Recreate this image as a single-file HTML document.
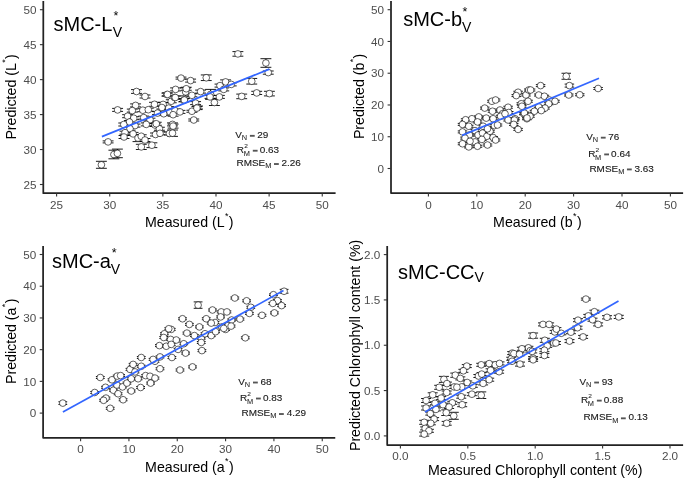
<!DOCTYPE html>
<html><head><meta charset="utf-8"><style>
html,body{margin:0;padding:0;background:#fff;}
svg{display:block;font-family:"Liberation Sans", sans-serif;}
.pts circle{fill:#fff;stroke:#000;stroke-width:0.62;}
</style></head><body>
<svg width="685" height="480" viewBox="0 0 685 480">
<defs><filter id="gs" x="0" y="0" width="685" height="480" filterUnits="userSpaceOnUse" color-interpolation-filters="sRGB"><feColorMatrix type="saturate" values="0"/></filter></defs>
<rect width="685" height="480" fill="#fff"/>
<g filter="url(#gs)">
<path d="M43.3,1.0V193.2H335.6" fill="none" stroke="#232323" stroke-width="1.75" stroke-linejoin="round" stroke-linecap="butt"/>
<line x1="39.90" y1="184.50" x2="43.3" y2="184.50" stroke="#333333" stroke-width="1.1"/>
<text x="36.40" y="188.70" text-anchor="end" font-size="11.7" fill="#4d4d4d">25</text>
<line x1="39.90" y1="149.54" x2="43.3" y2="149.54" stroke="#333333" stroke-width="1.1"/>
<text x="36.40" y="153.74" text-anchor="end" font-size="11.7" fill="#4d4d4d">30</text>
<line x1="39.90" y1="114.58" x2="43.3" y2="114.58" stroke="#333333" stroke-width="1.1"/>
<text x="36.40" y="118.78" text-anchor="end" font-size="11.7" fill="#4d4d4d">35</text>
<line x1="39.90" y1="79.62" x2="43.3" y2="79.62" stroke="#333333" stroke-width="1.1"/>
<text x="36.40" y="83.82" text-anchor="end" font-size="11.7" fill="#4d4d4d">40</text>
<line x1="39.90" y1="44.66" x2="43.3" y2="44.66" stroke="#333333" stroke-width="1.1"/>
<text x="36.40" y="48.86" text-anchor="end" font-size="11.7" fill="#4d4d4d">45</text>
<line x1="39.90" y1="9.70" x2="43.3" y2="9.70" stroke="#333333" stroke-width="1.1"/>
<text x="36.40" y="13.90" text-anchor="end" font-size="11.7" fill="#4d4d4d">50</text>
<line x1="56.60" y1="193.2" x2="56.60" y2="196.60" stroke="#333333" stroke-width="1.1"/>
<text x="56.60" y="208.60" text-anchor="middle" font-size="11.7" fill="#4d4d4d">25</text>
<line x1="109.73" y1="193.2" x2="109.73" y2="196.60" stroke="#333333" stroke-width="1.1"/>
<text x="109.73" y="208.60" text-anchor="middle" font-size="11.7" fill="#4d4d4d">30</text>
<line x1="162.86" y1="193.2" x2="162.86" y2="196.60" stroke="#333333" stroke-width="1.1"/>
<text x="162.86" y="208.60" text-anchor="middle" font-size="11.7" fill="#4d4d4d">35</text>
<line x1="215.99" y1="193.2" x2="215.99" y2="196.60" stroke="#333333" stroke-width="1.1"/>
<text x="215.99" y="208.60" text-anchor="middle" font-size="11.7" fill="#4d4d4d">40</text>
<line x1="269.12" y1="193.2" x2="269.12" y2="196.60" stroke="#333333" stroke-width="1.1"/>
<text x="269.12" y="208.60" text-anchor="middle" font-size="11.7" fill="#4d4d4d">45</text>
<line x1="322.25" y1="193.2" x2="322.25" y2="196.60" stroke="#333333" stroke-width="1.1"/>
<text x="322.25" y="208.60" text-anchor="middle" font-size="11.7" fill="#4d4d4d">50</text>
<path d="M391.0,1.0V193.1H683.1" fill="none" stroke="#232323" stroke-width="1.75" stroke-linejoin="round" stroke-linecap="butt"/>
<line x1="387.60" y1="168.50" x2="391.0" y2="168.50" stroke="#333333" stroke-width="1.1"/>
<text x="384.10" y="172.70" text-anchor="end" font-size="11.7" fill="#4d4d4d">0</text>
<line x1="387.60" y1="136.74" x2="391.0" y2="136.74" stroke="#333333" stroke-width="1.1"/>
<text x="384.10" y="140.94" text-anchor="end" font-size="11.7" fill="#4d4d4d">10</text>
<line x1="387.60" y1="104.98" x2="391.0" y2="104.98" stroke="#333333" stroke-width="1.1"/>
<text x="384.10" y="109.18" text-anchor="end" font-size="11.7" fill="#4d4d4d">20</text>
<line x1="387.60" y1="73.22" x2="391.0" y2="73.22" stroke="#333333" stroke-width="1.1"/>
<text x="384.10" y="77.42" text-anchor="end" font-size="11.7" fill="#4d4d4d">30</text>
<line x1="387.60" y1="41.46" x2="391.0" y2="41.46" stroke="#333333" stroke-width="1.1"/>
<text x="384.10" y="45.66" text-anchor="end" font-size="11.7" fill="#4d4d4d">40</text>
<line x1="387.60" y1="9.70" x2="391.0" y2="9.70" stroke="#333333" stroke-width="1.1"/>
<text x="384.10" y="13.90" text-anchor="end" font-size="11.7" fill="#4d4d4d">50</text>
<line x1="428.40" y1="193.1" x2="428.40" y2="196.50" stroke="#333333" stroke-width="1.1"/>
<text x="428.40" y="208.50" text-anchor="middle" font-size="11.7" fill="#4d4d4d">0</text>
<line x1="476.80" y1="193.1" x2="476.80" y2="196.50" stroke="#333333" stroke-width="1.1"/>
<text x="476.80" y="208.50" text-anchor="middle" font-size="11.7" fill="#4d4d4d">10</text>
<line x1="525.20" y1="193.1" x2="525.20" y2="196.50" stroke="#333333" stroke-width="1.1"/>
<text x="525.20" y="208.50" text-anchor="middle" font-size="11.7" fill="#4d4d4d">20</text>
<line x1="573.60" y1="193.1" x2="573.60" y2="196.50" stroke="#333333" stroke-width="1.1"/>
<text x="573.60" y="208.50" text-anchor="middle" font-size="11.7" fill="#4d4d4d">30</text>
<line x1="622.00" y1="193.1" x2="622.00" y2="196.50" stroke="#333333" stroke-width="1.1"/>
<text x="622.00" y="208.50" text-anchor="middle" font-size="11.7" fill="#4d4d4d">40</text>
<line x1="670.40" y1="193.1" x2="670.40" y2="196.50" stroke="#333333" stroke-width="1.1"/>
<text x="670.40" y="208.50" text-anchor="middle" font-size="11.7" fill="#4d4d4d">50</text>
<path d="M43.1,246.0V437.8H335.25" fill="none" stroke="#232323" stroke-width="1.75" stroke-linejoin="round" stroke-linecap="butt"/>
<line x1="39.70" y1="413.10" x2="43.1" y2="413.10" stroke="#333333" stroke-width="1.1"/>
<text x="36.20" y="417.30" text-anchor="end" font-size="11.7" fill="#4d4d4d">0</text>
<line x1="39.70" y1="381.38" x2="43.1" y2="381.38" stroke="#333333" stroke-width="1.1"/>
<text x="36.20" y="385.58" text-anchor="end" font-size="11.7" fill="#4d4d4d">10</text>
<line x1="39.70" y1="349.66" x2="43.1" y2="349.66" stroke="#333333" stroke-width="1.1"/>
<text x="36.20" y="353.86" text-anchor="end" font-size="11.7" fill="#4d4d4d">20</text>
<line x1="39.70" y1="317.94" x2="43.1" y2="317.94" stroke="#333333" stroke-width="1.1"/>
<text x="36.20" y="322.14" text-anchor="end" font-size="11.7" fill="#4d4d4d">30</text>
<line x1="39.70" y1="286.22" x2="43.1" y2="286.22" stroke="#333333" stroke-width="1.1"/>
<text x="36.20" y="290.42" text-anchor="end" font-size="11.7" fill="#4d4d4d">40</text>
<line x1="39.70" y1="254.50" x2="43.1" y2="254.50" stroke="#333333" stroke-width="1.1"/>
<text x="36.20" y="258.70" text-anchor="end" font-size="11.7" fill="#4d4d4d">50</text>
<line x1="80.60" y1="437.8" x2="80.60" y2="441.20" stroke="#333333" stroke-width="1.1"/>
<text x="80.60" y="453.20" text-anchor="middle" font-size="11.7" fill="#4d4d4d">0</text>
<line x1="128.93" y1="437.8" x2="128.93" y2="441.20" stroke="#333333" stroke-width="1.1"/>
<text x="128.93" y="453.20" text-anchor="middle" font-size="11.7" fill="#4d4d4d">10</text>
<line x1="177.26" y1="437.8" x2="177.26" y2="441.20" stroke="#333333" stroke-width="1.1"/>
<text x="177.26" y="453.20" text-anchor="middle" font-size="11.7" fill="#4d4d4d">20</text>
<line x1="225.59" y1="437.8" x2="225.59" y2="441.20" stroke="#333333" stroke-width="1.1"/>
<text x="225.59" y="453.20" text-anchor="middle" font-size="11.7" fill="#4d4d4d">30</text>
<line x1="273.92" y1="437.8" x2="273.92" y2="441.20" stroke="#333333" stroke-width="1.1"/>
<text x="273.92" y="453.20" text-anchor="middle" font-size="11.7" fill="#4d4d4d">40</text>
<line x1="322.25" y1="437.8" x2="322.25" y2="441.20" stroke="#333333" stroke-width="1.1"/>
<text x="322.25" y="453.20" text-anchor="middle" font-size="11.7" fill="#4d4d4d">50</text>
<path d="M387.2,246.0V445.0H683.1" fill="none" stroke="#232323" stroke-width="1.75" stroke-linejoin="round" stroke-linecap="butt"/>
<line x1="383.80" y1="435.90" x2="387.2" y2="435.90" stroke="#333333" stroke-width="1.1"/>
<text x="380.30" y="440.10" text-anchor="end" font-size="11.7" fill="#4d4d4d">0.0</text>
<line x1="383.80" y1="390.57" x2="387.2" y2="390.57" stroke="#333333" stroke-width="1.1"/>
<text x="380.30" y="394.77" text-anchor="end" font-size="11.7" fill="#4d4d4d">0.5</text>
<line x1="383.80" y1="345.25" x2="387.2" y2="345.25" stroke="#333333" stroke-width="1.1"/>
<text x="380.30" y="349.45" text-anchor="end" font-size="11.7" fill="#4d4d4d">1.0</text>
<line x1="383.80" y1="299.92" x2="387.2" y2="299.92" stroke="#333333" stroke-width="1.1"/>
<text x="380.30" y="304.12" text-anchor="end" font-size="11.7" fill="#4d4d4d">1.5</text>
<line x1="383.80" y1="254.60" x2="387.2" y2="254.60" stroke="#333333" stroke-width="1.1"/>
<text x="380.30" y="258.80" text-anchor="end" font-size="11.7" fill="#4d4d4d">2.0</text>
<line x1="400.40" y1="445.0" x2="400.40" y2="448.40" stroke="#333333" stroke-width="1.1"/>
<text x="400.40" y="460.40" text-anchor="middle" font-size="11.7" fill="#4d4d4d">0.0</text>
<line x1="467.80" y1="445.0" x2="467.80" y2="448.40" stroke="#333333" stroke-width="1.1"/>
<text x="467.80" y="460.40" text-anchor="middle" font-size="11.7" fill="#4d4d4d">0.5</text>
<line x1="535.20" y1="445.0" x2="535.20" y2="448.40" stroke="#333333" stroke-width="1.1"/>
<text x="535.20" y="460.40" text-anchor="middle" font-size="11.7" fill="#4d4d4d">1.0</text>
<line x1="602.60" y1="445.0" x2="602.60" y2="448.40" stroke="#333333" stroke-width="1.1"/>
<text x="602.60" y="460.40" text-anchor="middle" font-size="11.7" fill="#4d4d4d">1.5</text>
<line x1="670.00" y1="445.0" x2="670.00" y2="448.40" stroke="#333333" stroke-width="1.1"/>
<text x="670.00" y="460.40" text-anchor="middle" font-size="11.7" fill="#4d4d4d">2.0</text>
<g class="pts"><path d="M131.05,89.60h10.9M136.50,89.60V93.40M131.05,93.40h10.9M139.55,95.00h10.9M145.00,95.00V98.00M139.55,98.00h10.9M161.45,93.10h10.9M166.90,93.10V96.10M161.45,96.10h10.9M112.15,108.40h10.9M117.60,108.40V111.40M112.15,111.40h10.9M130.15,103.90h10.9M135.60,103.90V106.90M130.15,106.90h10.9M126.85,109.10h10.9M132.30,109.10V112.10M126.85,112.10h10.9M137.35,108.70h10.9M142.80,108.70V111.70M137.35,111.70h10.9M142.85,108.20h10.9M148.30,108.20V111.20M142.85,111.20h10.9M149.05,102.30h10.9M154.50,102.30V106.30M149.05,106.30h10.9M157.65,102.40h10.9M163.10,102.40V106.40M157.65,106.40h10.9M122.15,114.70h10.9M127.60,114.70V117.70M122.15,117.70h10.9M128.25,116.70h10.9M133.70,116.70V119.70M128.25,119.70h10.9M138.25,116.10h10.9M143.70,116.10V119.10M138.25,119.10h10.9M144.55,118.20h10.9M150.00,118.20V121.20M144.55,121.20h10.9M152.05,111.60h10.9M157.50,111.60V114.60M152.05,114.60h10.9M158.30,112.25h10.9M163.75,112.25V115.25M158.30,115.25h10.9M124.05,120.50h10.9M129.50,120.50V123.50M124.05,123.50h10.9M118.30,123.00h10.9M123.75,123.00V126.00M118.30,126.00h10.9M129.55,124.10h10.9M135.00,124.10V127.10M129.55,127.10h10.9M140.80,122.90h10.9M146.25,122.90V125.90M140.80,125.90h10.9M149.55,123.50h10.9M155.00,123.50V126.50M149.55,126.50h10.9M153.95,127.25h10.9M159.40,127.25V130.25M153.95,130.25h10.9M124.55,127.25h10.9M130.00,127.25V130.25M124.55,130.25h10.9M119.55,131.20h10.9M125.00,131.20V134.20M119.55,134.20h10.9M127.65,132.40h10.9M133.10,132.40V135.40M127.65,135.40h10.9M132.55,134.60h10.9M138.00,134.60V141.60M132.55,141.60h10.9M135.80,134.75h10.9M141.25,134.75V137.75M135.80,137.75h10.9M139.55,138.50h10.9M145.00,138.50V141.50M139.55,141.50h10.9M150.05,133.00h10.9M155.50,133.00V136.00M150.05,136.00h10.9M154.55,131.80h10.9M160.00,131.80V134.80M154.55,134.80h10.9M118.55,135.50h10.9M124.00,135.50V138.50M118.55,138.50h10.9M135.85,144.30h10.9M141.30,144.30V149.50M135.85,149.50h10.9M146.45,142.80h10.9M151.90,142.80V147.60M146.45,147.60h10.9M102.65,140.90h10.9M108.10,140.90V142.90M102.65,142.90h10.9M108.45,150.20h10.9M113.90,150.20V158.80M108.45,158.80h10.9M111.95,149.10h10.9M117.40,149.10V157.70M111.95,157.70h10.9M95.95,161.30h10.9M101.40,161.30V168.30M95.95,168.30h10.9M163.95,132.00h10.9M169.40,132.00V135.00M163.95,135.00h10.9M163.30,106.60h10.9M168.75,106.60V109.60M163.30,109.60h10.9M156.45,106.00h10.9M161.90,106.00V109.00M156.45,109.00h10.9M164.55,110.40h10.9M170.00,110.40V113.40M164.55,113.40h10.9M169.55,109.10h10.9M175.00,109.10V112.10M169.55,112.10h10.9M174.55,110.40h10.9M180.00,110.40V113.40M174.55,113.40h10.9M167.65,113.20h10.9M173.10,113.20V116.20M167.65,116.20h10.9M150.80,122.25h10.9M156.25,122.25V125.25M150.80,125.25h10.9M167.05,122.90h10.9M172.50,122.90V125.90M167.05,125.90h10.9M165.80,99.75h10.9M171.25,99.75V102.75M165.80,102.75h10.9M168.95,96.00h10.9M174.40,96.00V99.00M168.95,99.00h10.9M178.30,98.80h10.9M183.75,98.80V101.80M178.30,101.80h10.9M232.45,51.60h10.9M237.90,51.60V56.20M232.45,56.20h10.9M175.55,77.10h10.9M181.00,77.10V79.10M175.55,79.10h10.9M185.15,79.10h10.9M190.60,79.10V82.10M185.15,82.10h10.9M200.80,74.95h10.9M206.25,74.95V80.55M200.80,80.55h10.9M220.15,79.90h10.9M225.60,79.90V83.90M220.15,83.90h10.9M214.55,84.10h10.9M220.00,84.10V87.10M214.55,87.10h10.9M225.80,82.90h10.9M231.25,82.90V85.90M225.80,85.90h10.9M236.25,94.10h10.9M241.70,94.10V98.70M236.25,98.70h10.9M170.15,87.90h10.9M175.60,87.90V90.90M170.15,90.90h10.9M180.15,87.90h10.9M185.60,87.90V95.90M180.15,95.90h10.9M180.80,87.25h10.9M186.25,87.25V90.25M180.80,90.25h10.9M162.05,92.90h10.9M167.50,92.90V95.90M162.05,95.90h10.9M169.85,96.00h10.9M175.30,96.00V99.00M169.85,99.00h10.9M186.45,93.80h10.9M191.90,93.80V96.80M186.45,96.80h10.9M195.15,90.10h10.9M200.60,90.10V93.10M195.15,93.10h10.9M178.95,98.50h10.9M184.40,98.50V101.50M178.95,101.50h10.9M190.15,101.60h10.9M195.60,101.60V104.60M190.15,104.60h10.9M192.05,106.00h10.9M197.50,106.00V109.00M192.05,109.00h10.9M205.15,89.40h10.9M210.60,89.40V99.40M205.15,99.40h10.9M213.95,95.40h10.9M219.40,95.40V98.40M213.95,98.40h10.9M218.30,87.90h10.9M223.75,87.90V90.90M218.30,90.90h10.9M208.95,99.50h10.9M214.40,99.50V105.50M208.95,105.50h10.9M204.55,95.40h10.9M210.00,95.40V98.40M204.55,98.40h10.9M186.45,110.25h10.9M191.90,110.25V112.25M186.45,112.25h10.9M191.45,106.60h10.9M196.90,106.60V109.60M191.45,109.60h10.9M188.30,119.00h10.9M193.75,119.00V121.00M188.30,121.00h10.9M167.65,124.10h10.9M173.10,124.10V128.10M167.65,128.10h10.9M167.05,130.00h10.9M172.50,130.00V136.40M167.05,136.40h10.9M260.45,58.70h10.9M265.90,58.70V67.30M260.45,67.30h10.9M262.80,71.00h10.9M268.25,71.00V74.20M262.80,74.20h10.9M246.30,78.45h10.9M251.75,78.45V84.05M246.30,84.05h10.9M251.25,91.30h10.9M256.70,91.30V94.50M251.25,94.50h10.9M263.95,91.30h10.9M269.40,91.30V95.90M263.95,95.90h10.9" fill="none" stroke="#000" stroke-width="0.9"/>
<circle cx="136.50" cy="91.50" r="3.35"/>
<circle cx="145.00" cy="96.50" r="3.35"/>
<circle cx="166.90" cy="94.60" r="3.35"/>
<circle cx="117.60" cy="109.90" r="3.35"/>
<circle cx="135.60" cy="105.40" r="3.35"/>
<circle cx="132.30" cy="110.60" r="3.35"/>
<circle cx="142.80" cy="110.20" r="3.35"/>
<circle cx="148.30" cy="109.70" r="3.35"/>
<circle cx="154.50" cy="104.30" r="3.35"/>
<circle cx="163.10" cy="104.40" r="3.35"/>
<circle cx="127.60" cy="116.20" r="3.35"/>
<circle cx="133.70" cy="118.20" r="3.35"/>
<circle cx="143.70" cy="117.60" r="3.35"/>
<circle cx="150.00" cy="119.70" r="3.35"/>
<circle cx="157.50" cy="113.10" r="3.35"/>
<circle cx="163.75" cy="113.75" r="3.35"/>
<circle cx="129.50" cy="122.00" r="3.35"/>
<circle cx="123.75" cy="124.50" r="3.35"/>
<circle cx="135.00" cy="125.60" r="3.35"/>
<circle cx="146.25" cy="124.40" r="3.35"/>
<circle cx="155.00" cy="125.00" r="3.35"/>
<circle cx="159.40" cy="128.75" r="3.35"/>
<circle cx="130.00" cy="128.75" r="3.35"/>
<circle cx="125.00" cy="132.70" r="3.35"/>
<circle cx="133.10" cy="133.90" r="3.35"/>
<circle cx="138.00" cy="138.10" r="3.35"/>
<circle cx="141.25" cy="136.25" r="3.35"/>
<circle cx="145.00" cy="140.00" r="3.35"/>
<circle cx="155.50" cy="134.50" r="3.35"/>
<circle cx="160.00" cy="133.30" r="3.35"/>
<circle cx="124.00" cy="137.00" r="3.35"/>
<circle cx="141.30" cy="146.90" r="3.35"/>
<circle cx="151.90" cy="145.20" r="3.35"/>
<circle cx="108.10" cy="141.90" r="3.35"/>
<circle cx="113.90" cy="154.50" r="3.35"/>
<circle cx="117.40" cy="153.40" r="3.35"/>
<circle cx="101.40" cy="164.80" r="3.35"/>
<circle cx="169.40" cy="133.50" r="3.35"/>
<circle cx="168.75" cy="108.10" r="3.35"/>
<circle cx="161.90" cy="107.50" r="3.35"/>
<circle cx="170.00" cy="111.90" r="3.35"/>
<circle cx="175.00" cy="110.60" r="3.35"/>
<circle cx="180.00" cy="111.90" r="3.35"/>
<circle cx="173.10" cy="114.70" r="3.35"/>
<circle cx="156.25" cy="123.75" r="3.35"/>
<circle cx="172.50" cy="124.40" r="3.35"/>
<circle cx="171.25" cy="101.25" r="3.35"/>
<circle cx="174.40" cy="97.50" r="3.35"/>
<circle cx="183.75" cy="100.30" r="3.35"/>
<circle cx="237.90" cy="53.90" r="3.35"/>
<circle cx="181.00" cy="78.10" r="3.35"/>
<circle cx="190.60" cy="80.60" r="3.35"/>
<circle cx="206.25" cy="77.75" r="3.35"/>
<circle cx="225.60" cy="81.90" r="3.35"/>
<circle cx="220.00" cy="85.60" r="3.35"/>
<circle cx="231.25" cy="84.40" r="3.35"/>
<circle cx="241.70" cy="96.40" r="3.35"/>
<circle cx="175.60" cy="89.40" r="3.35"/>
<circle cx="185.60" cy="91.90" r="3.35"/>
<circle cx="186.25" cy="88.75" r="3.35"/>
<circle cx="167.50" cy="94.40" r="3.35"/>
<circle cx="175.30" cy="97.50" r="3.35"/>
<circle cx="191.90" cy="95.30" r="3.35"/>
<circle cx="200.60" cy="91.60" r="3.35"/>
<circle cx="184.40" cy="100.00" r="3.35"/>
<circle cx="195.60" cy="103.10" r="3.35"/>
<circle cx="197.50" cy="107.50" r="3.35"/>
<circle cx="210.60" cy="94.40" r="3.35"/>
<circle cx="219.40" cy="96.90" r="3.35"/>
<circle cx="223.75" cy="89.40" r="3.35"/>
<circle cx="214.40" cy="102.50" r="3.35"/>
<circle cx="210.00" cy="96.90" r="3.35"/>
<circle cx="191.90" cy="111.25" r="3.35"/>
<circle cx="196.90" cy="108.10" r="3.35"/>
<circle cx="193.75" cy="120.00" r="3.35"/>
<circle cx="173.10" cy="126.10" r="3.35"/>
<circle cx="172.50" cy="133.20" r="3.35"/>
<circle cx="265.90" cy="63.00" r="3.35"/>
<circle cx="268.25" cy="72.60" r="3.35"/>
<circle cx="251.75" cy="81.25" r="3.35"/>
<circle cx="256.70" cy="92.90" r="3.35"/>
<circle cx="269.40" cy="93.60" r="3.35"/></g>
<g class="pts"><path d="M513.35,91.25h9.5M518.10,91.25V93.25M513.35,93.25h9.5M511.50,94.60h9.5M516.25,94.60V96.60M511.50,96.60h9.5M521.25,94.00h9.5M526.00,94.00V96.00M521.25,96.00h9.5M524.00,89.00h9.5M528.75,89.00V91.00M524.00,91.00h9.5M487.15,100.25h9.5M491.90,100.25V102.25M487.15,102.25h9.5M490.85,99.00h9.5M495.60,99.00V101.00M490.85,101.00h9.5M480.00,107.10h9.5M484.75,107.10V109.10M480.00,109.10h9.5M487.75,110.25h9.5M492.50,110.25V112.25M487.75,112.25h9.5M495.25,109.00h9.5M500.00,109.00V111.00M495.25,111.00h9.5M503.35,106.25h9.5M508.10,106.25V108.25M503.35,108.25h9.5M504.00,111.50h9.5M508.75,111.50V113.50M504.00,113.50h9.5M497.75,112.75h9.5M502.50,112.75V114.75M497.75,114.75h9.5M516.50,102.75h9.5M521.25,102.75V104.75M516.50,104.75h9.5M517.15,105.25h9.5M521.90,105.25V107.25M517.15,107.25h9.5M519.00,112.75h9.5M523.75,112.75V114.75M519.00,114.75h9.5M523.35,100.25h9.5M528.10,100.25V102.25M523.35,102.25h9.5M474.00,115.90h9.5M478.75,115.90V117.90M474.00,117.90h9.5M467.15,117.75h9.5M471.90,117.75V119.75M467.15,119.75h9.5M481.50,117.10h9.5M486.25,117.10V119.10M481.50,119.10h9.5M488.35,117.75h9.5M493.10,117.75V119.75M488.35,119.75h9.5M460.85,118.75h9.5M465.60,118.75V120.75M460.85,120.75h9.5M510.25,117.75h9.5M515.00,117.75V119.75M510.25,119.75h9.5M457.75,123.40h9.5M462.50,123.40V125.40M457.75,125.40h9.5M464.00,125.25h9.5M468.75,125.25V127.25M464.00,127.25h9.5M472.75,120.90h9.5M477.50,120.90V122.90M472.75,122.90h9.5M495.85,115.25h9.5M500.60,115.25V117.25M495.85,117.25h9.5M500.25,112.75h9.5M505.00,112.75V114.75M500.25,114.75h9.5M503.35,119.00h9.5M508.10,119.00V121.00M503.35,121.00h9.5M509.65,119.00h9.5M514.40,119.00V121.00M509.65,121.00h9.5M509.00,123.40h9.5M513.75,123.40V125.40M509.00,125.40h9.5M513.35,128.40h9.5M518.10,128.40V130.40M513.35,130.40h9.5M519.65,112.10h9.5M524.40,112.10V114.10M519.65,114.10h9.5M522.15,117.75h9.5M526.90,117.75V119.75M522.15,119.75h9.5M457.75,130.90h9.5M462.50,130.90V132.90M457.75,132.90h9.5M464.65,134.00h9.5M469.40,134.00V136.00M464.65,136.00h9.5M470.25,129.60h9.5M475.00,129.60V131.60M470.25,131.60h9.5M473.35,134.00h9.5M478.10,134.00V136.00M473.35,136.00h9.5M477.75,132.10h9.5M482.50,132.10V134.10M477.75,134.10h9.5M482.15,135.25h9.5M486.90,135.25V137.25M482.15,137.25h9.5M485.25,130.25h9.5M490.00,130.25V132.25M485.25,132.25h9.5M488.35,136.50h9.5M493.10,136.50V138.50M488.35,138.50h9.5M489.65,124.60h9.5M494.40,124.60V126.60M489.65,126.60h9.5M492.75,124.00h9.5M497.50,124.00V126.00M492.75,126.00h9.5M460.25,137.10h9.5M465.00,137.10V139.10M460.25,139.10h9.5M457.75,142.75h9.5M462.50,142.75V144.75M457.75,144.75h9.5M464.00,145.90h9.5M468.75,145.90V147.90M464.00,147.90h9.5M470.25,140.90h9.5M475.00,140.90V142.90M470.25,142.90h9.5M472.75,145.25h9.5M477.50,145.25V147.25M472.75,147.25h9.5M477.15,138.40h9.5M481.90,138.40V140.40M477.15,140.40h9.5M482.75,144.00h9.5M487.50,144.00V146.00M482.75,146.00h9.5M490.85,139.00h9.5M495.60,139.00V141.00M490.85,141.00h9.5M465.25,140.25h9.5M470.00,140.25V142.25M465.25,142.25h9.5M478.35,125.25h9.5M483.10,125.25V127.25M478.35,127.25h9.5M482.75,127.75h9.5M487.50,127.75V129.75M482.75,129.75h9.5M561.50,73.25h9.5M566.25,73.25V79.25M561.50,79.25h9.5M535.85,84.60h9.5M540.60,84.60V86.60M535.85,86.60h9.5M564.65,84.10h9.5M569.40,84.10V87.10M564.65,87.10h9.5M564.00,94.00h9.5M568.75,94.00V96.00M564.00,96.00h9.5M575.00,93.75h9.5M579.75,93.75V95.75M575.00,95.75h9.5M593.35,87.50h9.5M598.10,87.50V89.50M593.35,89.50h9.5M525.85,89.00h9.5M530.60,89.00V91.00M525.85,91.00h9.5M534.00,94.00h9.5M538.75,94.00V96.00M534.00,96.00h9.5M539.65,95.25h9.5M544.40,95.25V97.25M539.65,97.25h9.5M544.65,99.00h9.5M549.40,99.00V101.00M544.65,101.00h9.5M550.25,100.25h9.5M555.00,100.25V102.25M550.25,102.25h9.5M544.00,102.75h9.5M548.75,102.75V104.75M544.00,104.75h9.5M540.25,107.10h9.5M545.00,107.10V109.10M540.25,109.10h9.5M534.00,105.90h9.5M538.75,105.90V107.90M534.00,107.90h9.5M536.50,109.60h9.5M541.25,109.60V111.60M536.50,111.60h9.5M529.65,110.25h9.5M534.40,110.25V112.25M529.65,112.25h9.5M525.25,115.25h9.5M530.00,115.25V117.25M525.25,117.25h9.5M522.25,117.00h9.5M527.00,117.00V119.00M522.25,119.00h9.5" fill="none" stroke="#000" stroke-width="0.9"/>
<circle cx="518.10" cy="92.25" r="3.35"/>
<circle cx="516.25" cy="95.60" r="3.35"/>
<circle cx="526.00" cy="95.00" r="3.35"/>
<circle cx="528.75" cy="90.00" r="3.35"/>
<circle cx="491.90" cy="101.25" r="3.35"/>
<circle cx="495.60" cy="100.00" r="3.35"/>
<circle cx="484.75" cy="108.10" r="3.35"/>
<circle cx="492.50" cy="111.25" r="3.35"/>
<circle cx="500.00" cy="110.00" r="3.35"/>
<circle cx="508.10" cy="107.25" r="3.35"/>
<circle cx="508.75" cy="112.50" r="3.35"/>
<circle cx="502.50" cy="113.75" r="3.35"/>
<circle cx="521.25" cy="103.75" r="3.35"/>
<circle cx="521.90" cy="106.25" r="3.35"/>
<circle cx="523.75" cy="113.75" r="3.35"/>
<circle cx="528.10" cy="101.25" r="3.35"/>
<circle cx="478.75" cy="116.90" r="3.35"/>
<circle cx="471.90" cy="118.75" r="3.35"/>
<circle cx="486.25" cy="118.10" r="3.35"/>
<circle cx="493.10" cy="118.75" r="3.35"/>
<circle cx="465.60" cy="119.75" r="3.35"/>
<circle cx="515.00" cy="118.75" r="3.35"/>
<circle cx="462.50" cy="124.40" r="3.35"/>
<circle cx="468.75" cy="126.25" r="3.35"/>
<circle cx="477.50" cy="121.90" r="3.35"/>
<circle cx="500.60" cy="116.25" r="3.35"/>
<circle cx="505.00" cy="113.75" r="3.35"/>
<circle cx="508.10" cy="120.00" r="3.35"/>
<circle cx="514.40" cy="120.00" r="3.35"/>
<circle cx="513.75" cy="124.40" r="3.35"/>
<circle cx="518.10" cy="129.40" r="3.35"/>
<circle cx="524.40" cy="113.10" r="3.35"/>
<circle cx="526.90" cy="118.75" r="3.35"/>
<circle cx="462.50" cy="131.90" r="3.35"/>
<circle cx="469.40" cy="135.00" r="3.35"/>
<circle cx="475.00" cy="130.60" r="3.35"/>
<circle cx="478.10" cy="135.00" r="3.35"/>
<circle cx="482.50" cy="133.10" r="3.35"/>
<circle cx="486.90" cy="136.25" r="3.35"/>
<circle cx="490.00" cy="131.25" r="3.35"/>
<circle cx="493.10" cy="137.50" r="3.35"/>
<circle cx="494.40" cy="125.60" r="3.35"/>
<circle cx="497.50" cy="125.00" r="3.35"/>
<circle cx="465.00" cy="138.10" r="3.35"/>
<circle cx="462.50" cy="143.75" r="3.35"/>
<circle cx="468.75" cy="146.90" r="3.35"/>
<circle cx="475.00" cy="141.90" r="3.35"/>
<circle cx="477.50" cy="146.25" r="3.35"/>
<circle cx="481.90" cy="139.40" r="3.35"/>
<circle cx="487.50" cy="145.00" r="3.35"/>
<circle cx="495.60" cy="140.00" r="3.35"/>
<circle cx="470.00" cy="141.25" r="3.35"/>
<circle cx="483.10" cy="126.25" r="3.35"/>
<circle cx="487.50" cy="128.75" r="3.35"/>
<circle cx="566.25" cy="76.25" r="3.35"/>
<circle cx="540.60" cy="85.60" r="3.35"/>
<circle cx="569.40" cy="85.60" r="3.35"/>
<circle cx="568.75" cy="95.00" r="3.35"/>
<circle cx="579.75" cy="94.75" r="3.35"/>
<circle cx="598.10" cy="88.50" r="3.35"/>
<circle cx="530.60" cy="90.00" r="3.35"/>
<circle cx="538.75" cy="95.00" r="3.35"/>
<circle cx="544.40" cy="96.25" r="3.35"/>
<circle cx="549.40" cy="100.00" r="3.35"/>
<circle cx="555.00" cy="101.25" r="3.35"/>
<circle cx="548.75" cy="103.75" r="3.35"/>
<circle cx="545.00" cy="108.10" r="3.35"/>
<circle cx="538.75" cy="106.90" r="3.35"/>
<circle cx="541.25" cy="110.60" r="3.35"/>
<circle cx="534.40" cy="111.25" r="3.35"/>
<circle cx="530.00" cy="116.25" r="3.35"/>
<circle cx="527.00" cy="118.00" r="3.35"/></g>
<g class="pts"><path d="M58.40,401.75h8.8M62.80,401.75V404.45M58.40,404.45h8.8M95.90,376.50h8.8M100.30,376.50V378.50M95.90,378.50h8.8M90.30,391.50h8.8M94.70,391.50V393.50M90.30,393.50h8.8M101.10,386.30h8.8M105.50,386.30V388.30M101.10,388.30h8.8M107.60,378.80h8.8M112.00,378.80V380.80M107.60,380.80h8.8M112.80,375.10h8.8M117.20,375.10V377.10M112.80,377.10h8.8M109.00,389.20h8.8M113.40,389.20V391.20M109.00,391.20h8.8M101.60,397.10h8.8M106.00,397.10V399.10M101.60,399.10h8.8M99.20,399.30h8.8M103.60,399.30V401.30M99.20,401.30h8.8M105.80,407.30h8.8M110.20,407.30V409.30M105.80,409.30h8.8M113.70,392.75h8.8M118.10,392.75V394.75M113.70,394.75h8.8M116.20,374.60h8.8M120.60,374.60V376.60M116.20,376.60h8.8M112.50,384.00h8.8M116.90,384.00V386.00M112.50,386.00h8.8M118.10,385.90h8.8M122.50,385.90V387.90M118.10,387.90h8.8M118.70,398.75h8.8M123.10,398.75V400.75M118.70,400.75h8.8M122.50,382.10h8.8M126.90,382.10V384.10M122.50,384.10h8.8M126.85,377.75h8.8M131.25,377.75V379.75M126.85,379.75h8.8M126.85,390.00h8.8M131.25,390.00V392.00M126.85,392.00h8.8M133.70,377.75h8.8M138.10,377.75V379.75M133.70,379.75h8.8M136.20,386.50h8.8M140.60,386.50V388.50M136.20,388.50h8.8M125.60,368.40h8.8M130.00,368.40V370.40M125.60,370.40h8.8M128.70,363.40h8.8M133.10,363.40V365.40M128.70,365.40h8.8M136.85,365.25h8.8M141.25,365.25V367.25M136.85,367.25h8.8M130.60,370.90h8.8M135.00,370.90V372.90M130.60,372.90h8.8M141.20,374.60h8.8M145.60,374.60V376.60M141.20,376.60h8.8M145.60,375.25h8.8M150.00,375.25V377.25M145.60,377.25h8.8M150.60,377.10h8.8M155.00,377.10V379.10M150.60,379.10h8.8M146.20,382.10h8.8M150.60,382.10V384.10M146.20,384.10h8.8M155.60,367.75h8.8M160.00,367.75V369.75M155.60,369.75h8.8M150.60,360.25h8.8M155.00,360.25V362.25M150.60,362.25h8.8M193.70,301.90h8.8M198.10,301.90V308.30M193.70,308.30h8.8M208.10,309.00h8.8M212.50,309.00V311.00M208.10,311.00h8.8M216.85,310.90h8.8M221.25,310.90V312.90M216.85,312.90h8.8M222.50,310.90h8.8M226.90,310.90V312.90M222.50,312.90h8.8M216.20,315.90h8.8M220.60,315.90V317.90M216.20,317.90h8.8M201.85,317.75h8.8M206.25,317.75V319.75M201.85,319.75h8.8M210.60,321.50h8.8M215.00,321.50V323.50M210.60,323.50h8.8M206.85,322.10h8.8M211.25,322.10V324.10M206.85,324.10h8.8M178.10,317.75h8.8M182.50,317.75V319.75M178.10,319.75h8.8M185.00,323.40h8.8M189.40,323.40V325.40M185.00,325.40h8.8M195.00,325.90h8.8M199.40,325.90V327.90M195.00,327.90h8.8M217.50,325.90h8.8M221.90,325.90V327.90M217.50,327.90h8.8M221.20,328.40h8.8M225.60,328.40V330.40M221.20,330.40h8.8M223.70,324.60h8.8M228.10,324.60V326.60M223.70,326.60h8.8M166.85,328.40h8.8M171.25,328.40V330.40M166.85,330.40h8.8M160.00,332.75h8.8M164.40,332.75V334.75M160.00,334.75h8.8M159.35,336.50h8.8M163.75,336.50V338.50M159.35,338.50h8.8M182.50,332.10h8.8M186.90,332.10V334.10M182.50,334.10h8.8M190.00,334.60h8.8M194.40,334.60V336.60M190.00,336.60h8.8M196.85,337.10h8.8M201.25,337.10V339.10M196.85,339.10h8.8M200.60,332.75h8.8M205.00,332.75V334.75M200.60,334.75h8.8M206.85,334.60h8.8M211.25,334.60V336.60M206.85,336.60h8.8M166.20,338.40h8.8M170.60,338.40V340.40M166.20,340.40h8.8M171.85,339.00h8.8M176.25,339.00V341.00M171.85,341.00h8.8M179.35,342.75h8.8M183.75,342.75V344.75M179.35,344.75h8.8M196.85,341.50h8.8M201.25,341.50V343.50M196.85,343.50h8.8M155.00,344.60h8.8M159.40,344.60V346.60M155.00,346.60h8.8M161.85,345.25h8.8M166.25,345.25V347.25M161.85,347.25h8.8M166.85,343.40h8.8M171.25,343.40V345.40M166.85,345.40h8.8M173.70,348.40h8.8M178.10,348.40V350.40M173.70,350.40h8.8M181.20,352.10h8.8M185.60,352.10V354.10M181.20,354.10h8.8M197.50,349.60h8.8M201.90,349.60V351.60M197.50,351.60h8.8M155.60,355.90h8.8M160.00,355.90V357.90M155.60,357.90h8.8M167.50,356.50h8.8M171.90,356.50V358.50M167.50,358.50h8.8M148.70,358.40h8.8M153.10,358.40V360.40M148.70,360.40h8.8M230.40,297.00h8.8M234.80,297.00V299.00M230.40,299.00h8.8M242.20,299.80h8.8M246.60,299.80V301.80M242.20,301.80h8.8M246.40,306.30h8.8M250.80,306.30V308.30M246.40,308.30h8.8M245.00,312.40h8.8M249.40,312.40V314.40M245.00,314.40h8.8M257.60,314.30h8.8M262.00,314.30V316.30M257.60,316.30h8.8M235.60,318.10h8.8M240.00,318.10V320.10M235.60,320.10h8.8M227.20,319.00h8.8M231.60,319.00V321.00M227.20,321.00h8.8M226.70,325.10h8.8M231.10,325.10V327.10M226.70,327.10h8.8M211.20,330.70h8.8M215.60,330.70V332.70M211.20,332.70h8.8M279.70,289.35h8.8M284.10,289.35V293.15M279.70,293.15h8.8M269.00,293.90h8.8M273.40,293.90V295.50M269.00,295.50h8.8M273.10,299.60h8.8M277.50,299.60V301.60M273.10,301.60h8.8M268.40,302.40h8.8M272.80,302.40V304.40M268.40,304.40h8.8M277.20,304.60h8.8M281.60,304.60V306.60M277.20,306.60h8.8M270.00,311.90h8.8M274.40,311.90V313.90M270.00,313.90h8.8M164.35,327.75h8.8M168.75,327.75V329.75M164.35,329.75h8.8M136.85,356.50h8.8M141.25,356.50V358.50M136.85,358.50h8.8M175.60,369.00h8.8M180.00,369.00V371.00M175.60,371.00h8.8M188.10,365.90h8.8M192.50,365.90V367.90M188.10,367.90h8.8M240.90,336.80h8.8M245.30,336.80V338.80M240.90,338.80h8.8M219.35,327.40h8.8M223.75,327.40V329.40M219.35,329.40h8.8" fill="none" stroke="#000" stroke-width="0.9"/>
<circle cx="62.80" cy="403.10" r="3.35"/>
<circle cx="100.30" cy="377.50" r="3.35"/>
<circle cx="94.70" cy="392.50" r="3.35"/>
<circle cx="105.50" cy="387.30" r="3.35"/>
<circle cx="112.00" cy="379.80" r="3.35"/>
<circle cx="117.20" cy="376.10" r="3.35"/>
<circle cx="113.40" cy="390.20" r="3.35"/>
<circle cx="106.00" cy="398.10" r="3.35"/>
<circle cx="103.60" cy="400.30" r="3.35"/>
<circle cx="110.20" cy="408.30" r="3.35"/>
<circle cx="118.10" cy="393.75" r="3.35"/>
<circle cx="120.60" cy="375.60" r="3.35"/>
<circle cx="116.90" cy="385.00" r="3.35"/>
<circle cx="122.50" cy="386.90" r="3.35"/>
<circle cx="123.10" cy="399.75" r="3.35"/>
<circle cx="126.90" cy="383.10" r="3.35"/>
<circle cx="131.25" cy="378.75" r="3.35"/>
<circle cx="131.25" cy="391.00" r="3.35"/>
<circle cx="138.10" cy="378.75" r="3.35"/>
<circle cx="140.60" cy="387.50" r="3.35"/>
<circle cx="130.00" cy="369.40" r="3.35"/>
<circle cx="133.10" cy="364.40" r="3.35"/>
<circle cx="141.25" cy="366.25" r="3.35"/>
<circle cx="135.00" cy="371.90" r="3.35"/>
<circle cx="145.60" cy="375.60" r="3.35"/>
<circle cx="150.00" cy="376.25" r="3.35"/>
<circle cx="155.00" cy="378.10" r="3.35"/>
<circle cx="150.60" cy="383.10" r="3.35"/>
<circle cx="160.00" cy="368.75" r="3.35"/>
<circle cx="155.00" cy="361.25" r="3.35"/>
<circle cx="198.10" cy="305.10" r="3.35"/>
<circle cx="212.50" cy="310.00" r="3.35"/>
<circle cx="221.25" cy="311.90" r="3.35"/>
<circle cx="226.90" cy="311.90" r="3.35"/>
<circle cx="220.60" cy="316.90" r="3.35"/>
<circle cx="206.25" cy="318.75" r="3.35"/>
<circle cx="215.00" cy="322.50" r="3.35"/>
<circle cx="211.25" cy="323.10" r="3.35"/>
<circle cx="182.50" cy="318.75" r="3.35"/>
<circle cx="189.40" cy="324.40" r="3.35"/>
<circle cx="199.40" cy="326.90" r="3.35"/>
<circle cx="221.90" cy="326.90" r="3.35"/>
<circle cx="225.60" cy="329.40" r="3.35"/>
<circle cx="228.10" cy="325.60" r="3.35"/>
<circle cx="171.25" cy="329.40" r="3.35"/>
<circle cx="164.40" cy="333.75" r="3.35"/>
<circle cx="163.75" cy="337.50" r="3.35"/>
<circle cx="186.90" cy="333.10" r="3.35"/>
<circle cx="194.40" cy="335.60" r="3.35"/>
<circle cx="201.25" cy="338.10" r="3.35"/>
<circle cx="205.00" cy="333.75" r="3.35"/>
<circle cx="211.25" cy="335.60" r="3.35"/>
<circle cx="170.60" cy="339.40" r="3.35"/>
<circle cx="176.25" cy="340.00" r="3.35"/>
<circle cx="183.75" cy="343.75" r="3.35"/>
<circle cx="201.25" cy="342.50" r="3.35"/>
<circle cx="159.40" cy="345.60" r="3.35"/>
<circle cx="166.25" cy="346.25" r="3.35"/>
<circle cx="171.25" cy="344.40" r="3.35"/>
<circle cx="178.10" cy="349.40" r="3.35"/>
<circle cx="185.60" cy="353.10" r="3.35"/>
<circle cx="201.90" cy="350.60" r="3.35"/>
<circle cx="160.00" cy="356.90" r="3.35"/>
<circle cx="171.90" cy="357.50" r="3.35"/>
<circle cx="153.10" cy="359.40" r="3.35"/>
<circle cx="234.80" cy="298.00" r="3.35"/>
<circle cx="246.60" cy="300.80" r="3.35"/>
<circle cx="250.80" cy="307.30" r="3.35"/>
<circle cx="249.40" cy="313.40" r="3.35"/>
<circle cx="262.00" cy="315.30" r="3.35"/>
<circle cx="240.00" cy="319.10" r="3.35"/>
<circle cx="231.60" cy="320.00" r="3.35"/>
<circle cx="231.10" cy="326.10" r="3.35"/>
<circle cx="215.60" cy="331.70" r="3.35"/>
<circle cx="284.10" cy="291.25" r="3.35"/>
<circle cx="273.40" cy="294.70" r="3.35"/>
<circle cx="277.50" cy="300.60" r="3.35"/>
<circle cx="272.80" cy="303.40" r="3.35"/>
<circle cx="281.60" cy="305.60" r="3.35"/>
<circle cx="274.40" cy="312.90" r="3.35"/>
<circle cx="168.75" cy="328.75" r="3.35"/>
<circle cx="141.25" cy="357.50" r="3.35"/>
<circle cx="180.00" cy="370.00" r="3.35"/>
<circle cx="192.50" cy="366.90" r="3.35"/>
<circle cx="245.30" cy="337.80" r="3.35"/>
<circle cx="223.75" cy="328.40" r="3.35"/></g>
<g class="pts"><path d="M438.90,376.40h10.0M443.90,376.40V382.40M438.90,382.40h10.0M450.30,373.10h10.0M455.30,373.10V377.30M450.30,377.30h10.0M441.90,382.10h10.0M446.90,382.10V385.10M441.90,385.10h10.0M455.30,376.90h10.0M460.30,376.90V379.90M455.30,379.90h10.0M449.20,385.40h10.0M454.20,385.40V388.40M449.20,388.40h10.0M434.20,385.30h10.0M439.20,385.30V389.30M434.20,389.30h10.0M456.70,385.40h10.0M461.70,385.40V388.40M456.70,388.40h10.0M441.70,391.00h10.0M446.70,391.00V394.00M441.70,394.00h10.0M427.70,392.80h10.0M432.70,392.80V396.80M427.70,396.80h10.0M436.10,396.60h10.0M441.10,396.60V399.60M436.10,399.60h10.0M421.10,398.50h10.0M426.10,398.50V402.50M421.10,402.50h10.0M430.00,401.80h10.0M435.00,401.80V404.80M430.00,404.80h10.0M438.00,403.20h10.0M443.00,403.20V406.20M438.00,406.20h10.0M456.25,395.20h10.0M461.25,395.20V398.20M456.25,398.20h10.0M447.30,401.30h10.0M452.30,401.30V404.30M447.30,404.30h10.0M444.10,405.50h10.0M449.10,405.50V408.50M444.10,408.50h10.0M457.20,402.70h10.0M462.20,402.70V406.70M457.20,406.70h10.0M421.10,406.00h10.0M426.10,406.00V410.00M421.10,410.00h10.0M430.90,407.90h10.0M435.90,407.90V410.90M430.90,410.90h10.0M425.30,412.10h10.0M430.30,412.10V415.10M425.30,415.10h10.0M441.25,409.90h10.0M446.25,409.90V415.50M441.25,415.50h10.0M448.75,412.30h10.0M453.75,412.30V419.30M448.75,419.30h10.0M429.10,417.60h10.0M434.10,417.60V420.60M429.10,420.60h10.0M441.70,421.40h10.0M446.70,421.40V425.20M441.70,425.20h10.0M419.20,420.30h10.0M424.20,420.30V424.30M419.20,424.30h10.0M425.80,421.80h10.0M430.80,421.80V424.80M425.80,424.80h10.0M420.20,426.90h10.0M425.20,426.90V429.90M420.20,429.90h10.0M423.90,429.30h10.0M428.90,429.30V432.30M423.90,432.30h10.0M419.20,432.10h10.0M424.20,432.10V436.10M419.20,436.10h10.0M461.80,364.60h10.0M466.80,364.60V367.60M461.80,367.60h10.0M476.25,363.30h10.0M481.25,363.30V366.30M476.25,366.30h10.0M484.20,362.10h10.0M489.20,362.10V365.10M484.20,365.10h10.0M490.30,363.30h10.0M495.30,363.30V366.30M490.30,366.30h10.0M494.50,361.90h10.0M499.50,361.90V364.90M494.50,364.90h10.0M507.20,351.60h10.0M512.20,351.60V354.60M507.20,354.60h10.0M506.25,357.25h10.0M511.25,357.25V360.25M506.25,360.25h10.0M458.40,369.30h10.0M463.40,369.30V372.30M458.40,372.30h10.0M485.60,368.80h10.0M490.60,368.80V371.80M485.60,371.80h10.0M494.10,370.20h10.0M499.10,370.20V373.20M494.10,373.20h10.0M473.40,374.50h10.0M478.40,374.50V377.50M473.40,377.50h10.0M476.70,372.60h10.0M481.70,372.60V375.60M476.70,375.60h10.0M484.20,378.20h10.0M489.20,378.20V381.20M484.20,381.20h10.0M478.10,381.90h10.0M483.10,381.90V384.90M478.10,384.90h10.0M462.20,381.00h10.0M467.20,381.00V384.00M462.20,384.00h10.0M467.80,384.30h10.0M472.80,384.30V387.30M467.80,387.30h10.0M466.90,392.70h10.0M471.90,392.70V395.70M466.90,395.70h10.0M476.25,391.90h10.0M481.25,391.90V398.50M476.25,398.50h10.0M451.90,385.70h10.0M456.90,385.70V388.70M451.90,388.70h10.0M538.00,322.90h10.0M543.00,322.90V325.90M538.00,325.90h10.0M544.10,322.90h10.0M549.10,322.90V325.90M544.10,325.90h10.0M549.70,330.40h10.0M554.70,330.40V333.40M549.70,333.40h10.0M556.25,331.80h10.0M561.25,331.80V334.80M556.25,334.80h10.0M528.10,333.00h10.0M533.10,333.00V338.20M528.10,338.20h10.0M539.80,338.30h10.0M544.80,338.30V342.30M539.80,342.30h10.0M548.75,341.60h10.0M553.75,341.60V344.60M548.75,344.60h10.0M542.20,344.40h10.0M547.20,344.40V347.40M542.20,347.40h10.0M539.40,348.70h10.0M544.40,348.70V351.70M539.40,351.70h10.0M539.40,353.60h10.0M544.40,353.60V357.40M539.40,357.40h10.0M523.40,346.30h10.0M528.40,346.30V349.30M523.40,349.30h10.0M525.30,349.10h10.0M530.30,349.10V352.10M525.30,352.10h10.0M516.90,347.25h10.0M521.90,347.25V350.25M516.90,350.25h10.0M508.90,352.10h10.0M513.90,352.10V355.10M508.90,355.10h10.0M514.50,352.80h10.0M519.50,352.80V355.80M514.50,355.80h10.0M528.10,356.60h10.0M533.10,356.60V359.60M528.10,359.60h10.0M507.00,359.75h10.0M512.00,359.75V362.75M507.00,362.75h10.0M515.00,362.10h10.0M520.00,362.10V366.10M515.00,366.10h10.0M528.10,358.30h10.0M533.10,358.30V361.30M528.10,361.30h10.0M527.20,349.90h10.0M532.20,349.90V352.90M527.20,352.90h10.0M580.90,298.10h10.0M585.90,298.10V300.10M580.90,300.10h10.0M589.40,310.20h10.0M594.40,310.20V313.20M589.40,313.20h10.0M583.30,314.40h10.0M588.30,314.40V317.40M583.30,317.40h10.0M587.50,318.20h10.0M592.50,318.20V321.20M587.50,321.20h10.0M593.10,322.90h10.0M598.10,322.90V325.90M593.10,325.90h10.0M573.00,318.70h10.0M578.00,318.70V321.70M573.00,321.70h10.0M572.50,326.20h10.0M577.50,326.20V329.20M572.50,329.20h10.0M602.00,315.70h10.0M607.00,315.70V318.90M602.00,318.90h10.0M613.75,315.30h10.0M618.75,315.30V318.50M613.75,318.50h10.0M551.40,327.60h10.0M556.40,327.60V330.60M551.40,330.60h10.0M565.90,330.70h10.0M570.90,330.70V333.70M565.90,333.70h10.0M578.10,335.40h10.0M583.10,335.40V338.40M578.10,338.40h10.0M564.50,339.60h10.0M569.50,339.60V342.60M564.50,342.60h10.0M550.90,341.50h10.0M555.90,341.50V344.50M550.90,344.50h10.0" fill="none" stroke="#000" stroke-width="0.9"/>
<circle cx="443.90" cy="379.40" r="3.35"/>
<circle cx="455.30" cy="375.20" r="3.35"/>
<circle cx="446.90" cy="383.60" r="3.35"/>
<circle cx="460.30" cy="378.40" r="3.35"/>
<circle cx="454.20" cy="386.90" r="3.35"/>
<circle cx="439.20" cy="387.30" r="3.35"/>
<circle cx="461.70" cy="386.90" r="3.35"/>
<circle cx="446.70" cy="392.50" r="3.35"/>
<circle cx="432.70" cy="394.80" r="3.35"/>
<circle cx="441.10" cy="398.10" r="3.35"/>
<circle cx="426.10" cy="400.50" r="3.35"/>
<circle cx="435.00" cy="403.30" r="3.35"/>
<circle cx="443.00" cy="404.70" r="3.35"/>
<circle cx="461.25" cy="396.70" r="3.35"/>
<circle cx="452.30" cy="402.80" r="3.35"/>
<circle cx="449.10" cy="407.00" r="3.35"/>
<circle cx="462.20" cy="404.70" r="3.35"/>
<circle cx="426.10" cy="408.00" r="3.35"/>
<circle cx="435.90" cy="409.40" r="3.35"/>
<circle cx="430.30" cy="413.60" r="3.35"/>
<circle cx="446.25" cy="412.70" r="3.35"/>
<circle cx="453.75" cy="415.80" r="3.35"/>
<circle cx="434.10" cy="419.10" r="3.35"/>
<circle cx="446.70" cy="423.30" r="3.35"/>
<circle cx="424.20" cy="422.30" r="3.35"/>
<circle cx="430.80" cy="423.30" r="3.35"/>
<circle cx="425.20" cy="428.40" r="3.35"/>
<circle cx="428.90" cy="430.80" r="3.35"/>
<circle cx="424.20" cy="434.10" r="3.35"/>
<circle cx="466.80" cy="366.10" r="3.35"/>
<circle cx="481.25" cy="364.80" r="3.35"/>
<circle cx="489.20" cy="363.60" r="3.35"/>
<circle cx="495.30" cy="364.80" r="3.35"/>
<circle cx="499.50" cy="363.40" r="3.35"/>
<circle cx="512.20" cy="353.10" r="3.35"/>
<circle cx="511.25" cy="358.75" r="3.35"/>
<circle cx="463.40" cy="370.80" r="3.35"/>
<circle cx="490.60" cy="370.30" r="3.35"/>
<circle cx="499.10" cy="371.70" r="3.35"/>
<circle cx="478.40" cy="376.00" r="3.35"/>
<circle cx="481.70" cy="374.10" r="3.35"/>
<circle cx="489.20" cy="379.70" r="3.35"/>
<circle cx="483.10" cy="383.40" r="3.35"/>
<circle cx="467.20" cy="382.50" r="3.35"/>
<circle cx="472.80" cy="385.80" r="3.35"/>
<circle cx="471.90" cy="394.20" r="3.35"/>
<circle cx="481.25" cy="395.20" r="3.35"/>
<circle cx="456.90" cy="387.20" r="3.35"/>
<circle cx="543.00" cy="324.40" r="3.35"/>
<circle cx="549.10" cy="324.40" r="3.35"/>
<circle cx="554.70" cy="331.90" r="3.35"/>
<circle cx="561.25" cy="333.30" r="3.35"/>
<circle cx="533.10" cy="335.60" r="3.35"/>
<circle cx="544.80" cy="340.30" r="3.35"/>
<circle cx="553.75" cy="343.10" r="3.35"/>
<circle cx="547.20" cy="345.90" r="3.35"/>
<circle cx="544.40" cy="350.20" r="3.35"/>
<circle cx="544.40" cy="355.50" r="3.35"/>
<circle cx="528.40" cy="347.80" r="3.35"/>
<circle cx="530.30" cy="350.60" r="3.35"/>
<circle cx="521.90" cy="348.75" r="3.35"/>
<circle cx="513.90" cy="353.60" r="3.35"/>
<circle cx="519.50" cy="354.30" r="3.35"/>
<circle cx="533.10" cy="358.10" r="3.35"/>
<circle cx="512.00" cy="361.25" r="3.35"/>
<circle cx="520.00" cy="364.10" r="3.35"/>
<circle cx="533.10" cy="359.80" r="3.35"/>
<circle cx="532.20" cy="351.40" r="3.35"/>
<circle cx="585.90" cy="299.10" r="3.35"/>
<circle cx="594.40" cy="311.70" r="3.35"/>
<circle cx="588.30" cy="315.90" r="3.35"/>
<circle cx="592.50" cy="319.70" r="3.35"/>
<circle cx="598.10" cy="324.40" r="3.35"/>
<circle cx="578.00" cy="320.20" r="3.35"/>
<circle cx="577.50" cy="327.70" r="3.35"/>
<circle cx="607.00" cy="317.30" r="3.35"/>
<circle cx="618.75" cy="316.90" r="3.35"/>
<circle cx="556.40" cy="329.10" r="3.35"/>
<circle cx="570.90" cy="332.20" r="3.35"/>
<circle cx="583.10" cy="336.90" r="3.35"/>
<circle cx="569.50" cy="341.10" r="3.35"/>
<circle cx="555.90" cy="343.00" r="3.35"/></g>
<text x="53.5" y="30.9" font-size="20" fill="#000">sMC-L</text><text x="113.5" y="19.9" font-size="12.5" fill="#000">*</text><text x="112.8" y="37.1" font-size="14" fill="#000">V</text>
<text x="403.2" y="25.9" font-size="20" fill="#000">sMC-b</text><text x="462.6" y="15.6" font-size="12.5" fill="#000">*</text><text x="462.0" y="32.4" font-size="14" fill="#000">V</text>
<text x="52.0" y="267.5" font-size="20" fill="#000">sMC-a</text><text x="111.75" y="257.1" font-size="12.5" fill="#000">*</text><text x="110.8" y="273.5" font-size="14" fill="#000">V</text>
<text x="397.9" y="278.6" font-size="20" fill="#000">sMC-CC</text><text x="474.5" y="281.6" font-size="14" fill="#000">V</text>
<text x="189.3" y="227.0" font-size="14.2" text-anchor="middle" fill="#000">Measured (L<tspan font-size="9" dx="0.3" dy="-8">*</tspan><tspan dx="0.4" dy="8">)</tspan></text>
<text x="537.4" y="226.9" font-size="14.2" text-anchor="middle" fill="#000">Measured (b<tspan font-size="9" dx="0.3" dy="-8">*</tspan><tspan dx="0.4" dy="8">)</tspan></text>
<text x="189.4" y="471.8" font-size="14.2" text-anchor="middle" fill="#000">Measured (a<tspan font-size="9" dx="0.3" dy="-8">*</tspan><tspan dx="0.4" dy="8">)</tspan></text>
<text x="535.2" y="475.0" font-size="14.2" text-anchor="middle" fill="#000">Measured Chlorophyll content (%)</text>
<g transform="translate(16.1,96.9) rotate(-90)"><text x="0" y="0" font-size="14.2" text-anchor="middle" fill="#000">Predicted (L<tspan font-size="9" dx="0.3" dy="-8">*</tspan><tspan dx="0.4" dy="8">)</tspan></text></g>
<g transform="translate(363.75,96.4) rotate(-90)"><text x="0" y="0" font-size="14.2" text-anchor="middle" fill="#000">Predicted (b<tspan font-size="9" dx="0.3" dy="-8">*</tspan><tspan dx="0.4" dy="8">)</tspan></text></g>
<g transform="translate(16.2,341.3) rotate(-90)"><text x="0" y="0" font-size="14.2" text-anchor="middle" fill="#000">Predicted (a<tspan font-size="9" dx="0.3" dy="-8">*</tspan><tspan dx="0.4" dy="8">)</tspan></text></g>
<g transform="translate(359.8,345.4) rotate(-90)"><text x="0" y="0" font-size="14.2" text-anchor="middle" fill="#000">Predicted Chlorophyll content (%)</text></g>
<text transform="translate(235.26,137.90) scale(1.06,1)" font-size="9.4" fill="#1a1a1a" stroke="#1a1a1a" stroke-width="0.12">V</text>
<text transform="translate(241.69,139.90) scale(1.06,1)" font-size="7.0" fill="#1a1a1a" stroke="#1a1a1a" stroke-width="0.05">N</text>
<rect x="249.90" y="134.90" width="4.8" height="1.85" fill="#555"/>
<text transform="translate(257.30,137.90) scale(1.06,1)" font-size="9.4" fill="#1a1a1a" stroke="#1a1a1a" stroke-width="0.12">29</text>
<text transform="translate(236.78,152.80) scale(1.06,1)" font-size="9.4" fill="#1a1a1a" stroke="#1a1a1a" stroke-width="0.12">R</text>
<text transform="translate(244.17,147.80) scale(1.06,1)" font-size="6.2" fill="#1a1a1a" stroke="#1a1a1a" stroke-width="0.05">2</text>
<text transform="translate(243.69,155.80) scale(1.06,1)" font-size="7.0" fill="#1a1a1a" stroke="#1a1a1a" stroke-width="0.05">M</text>
<rect x="252.80" y="149.80" width="4.8" height="1.85" fill="#555"/>
<text transform="translate(259.71,152.80) scale(1.06,1)" font-size="9.4" fill="#1a1a1a" stroke="#1a1a1a" stroke-width="0.12">0.63</text>
<text transform="translate(236.48,166.10) scale(1.06,1)" font-size="9.4" fill="#1a1a1a" stroke="#1a1a1a" stroke-width="0.12">RMSE</text>
<text transform="translate(265.19,168.30) scale(1.06,1)" font-size="7.0" fill="#1a1a1a" stroke="#1a1a1a" stroke-width="0.05">M</text>
<rect x="274.00" y="163.10" width="4.8" height="1.85" fill="#555"/>
<text transform="translate(281.40,166.10) scale(1.06,1)" font-size="9.4" fill="#1a1a1a" stroke="#1a1a1a" stroke-width="0.12">2.26</text>
<text transform="translate(586.21,139.75) scale(1.06,1)" font-size="9.4" fill="#1a1a1a" stroke="#1a1a1a" stroke-width="0.12">V</text>
<text transform="translate(592.64,141.75) scale(1.06,1)" font-size="7.0" fill="#1a1a1a" stroke="#1a1a1a" stroke-width="0.05">N</text>
<rect x="600.85" y="136.75" width="4.8" height="1.85" fill="#555"/>
<text transform="translate(608.24,139.75) scale(1.06,1)" font-size="9.4" fill="#1a1a1a" stroke="#1a1a1a" stroke-width="0.12">76</text>
<text transform="translate(588.18,156.50) scale(1.06,1)" font-size="9.4" fill="#1a1a1a" stroke="#1a1a1a" stroke-width="0.12">R</text>
<text transform="translate(595.57,151.50) scale(1.06,1)" font-size="6.2" fill="#1a1a1a" stroke="#1a1a1a" stroke-width="0.05">2</text>
<text transform="translate(595.09,159.50) scale(1.06,1)" font-size="7.0" fill="#1a1a1a" stroke="#1a1a1a" stroke-width="0.05">M</text>
<rect x="604.20" y="153.50" width="4.8" height="1.85" fill="#555"/>
<text transform="translate(611.11,156.50) scale(1.06,1)" font-size="9.4" fill="#1a1a1a" stroke="#1a1a1a" stroke-width="0.12">0.64</text>
<text transform="translate(589.43,171.50) scale(1.06,1)" font-size="9.4" fill="#1a1a1a" stroke="#1a1a1a" stroke-width="0.12">RMSE</text>
<text transform="translate(618.14,173.70) scale(1.06,1)" font-size="7.0" fill="#1a1a1a" stroke="#1a1a1a" stroke-width="0.05">M</text>
<rect x="626.95" y="168.50" width="4.8" height="1.85" fill="#555"/>
<text transform="translate(634.47,171.50) scale(1.06,1)" font-size="9.4" fill="#1a1a1a" stroke="#1a1a1a" stroke-width="0.12">3.63</text>
<text transform="translate(238.36,384.60) scale(1.06,1)" font-size="9.4" fill="#1a1a1a" stroke="#1a1a1a" stroke-width="0.12">V</text>
<text transform="translate(244.79,386.60) scale(1.06,1)" font-size="7.0" fill="#1a1a1a" stroke="#1a1a1a" stroke-width="0.05">N</text>
<rect x="253.00" y="381.60" width="4.8" height="1.85" fill="#555"/>
<text transform="translate(260.39,384.60) scale(1.06,1)" font-size="9.4" fill="#1a1a1a" stroke="#1a1a1a" stroke-width="0.12">68</text>
<text transform="translate(239.98,400.60) scale(1.06,1)" font-size="9.4" fill="#1a1a1a" stroke="#1a1a1a" stroke-width="0.12">R</text>
<text transform="translate(247.37,395.60) scale(1.06,1)" font-size="6.2" fill="#1a1a1a" stroke="#1a1a1a" stroke-width="0.05">2</text>
<text transform="translate(246.89,403.60) scale(1.06,1)" font-size="7.0" fill="#1a1a1a" stroke="#1a1a1a" stroke-width="0.05">M</text>
<rect x="256.00" y="397.60" width="4.8" height="1.85" fill="#555"/>
<text transform="translate(262.91,400.60) scale(1.06,1)" font-size="9.4" fill="#1a1a1a" stroke="#1a1a1a" stroke-width="0.12">0.83</text>
<text transform="translate(241.48,416.10) scale(1.06,1)" font-size="9.4" fill="#1a1a1a" stroke="#1a1a1a" stroke-width="0.12">RMSE</text>
<text transform="translate(270.19,418.30) scale(1.06,1)" font-size="7.0" fill="#1a1a1a" stroke="#1a1a1a" stroke-width="0.05">M</text>
<rect x="279.00" y="413.10" width="4.8" height="1.85" fill="#555"/>
<text transform="translate(286.67,416.10) scale(1.06,1)" font-size="9.4" fill="#1a1a1a" stroke="#1a1a1a" stroke-width="0.12">4.29</text>
<text transform="translate(579.56,384.60) scale(1.06,1)" font-size="9.4" fill="#1a1a1a" stroke="#1a1a1a" stroke-width="0.12">V</text>
<text transform="translate(585.99,386.60) scale(1.06,1)" font-size="7.0" fill="#1a1a1a" stroke="#1a1a1a" stroke-width="0.05">N</text>
<rect x="594.20" y="381.60" width="4.8" height="1.85" fill="#555"/>
<text transform="translate(601.63,384.60) scale(1.06,1)" font-size="9.4" fill="#1a1a1a" stroke="#1a1a1a" stroke-width="0.12">93</text>
<text transform="translate(580.88,402.70) scale(1.06,1)" font-size="9.4" fill="#1a1a1a" stroke="#1a1a1a" stroke-width="0.12">R</text>
<text transform="translate(588.27,397.70) scale(1.06,1)" font-size="6.2" fill="#1a1a1a" stroke="#1a1a1a" stroke-width="0.05">2</text>
<text transform="translate(587.79,405.70) scale(1.06,1)" font-size="7.0" fill="#1a1a1a" stroke="#1a1a1a" stroke-width="0.05">M</text>
<rect x="596.90" y="399.70" width="4.8" height="1.85" fill="#555"/>
<text transform="translate(603.81,402.70) scale(1.06,1)" font-size="9.4" fill="#1a1a1a" stroke="#1a1a1a" stroke-width="0.12">0.88</text>
<text transform="translate(583.43,420.40) scale(1.06,1)" font-size="9.4" fill="#1a1a1a" stroke="#1a1a1a" stroke-width="0.12">RMSE</text>
<text transform="translate(612.14,422.60) scale(1.06,1)" font-size="7.0" fill="#1a1a1a" stroke="#1a1a1a" stroke-width="0.05">M</text>
<rect x="620.95" y="417.40" width="4.8" height="1.85" fill="#555"/>
<text transform="translate(628.46,420.40) scale(1.06,1)" font-size="9.4" fill="#1a1a1a" stroke="#1a1a1a" stroke-width="0.12">0.13</text>
</g>
<line x1="101.9" y1="136.6" x2="269.4" y2="69.1" stroke="#3366ff" stroke-width="1.7"/>
<line x1="462.1" y1="135.4" x2="599" y2="78.25" stroke="#3366ff" stroke-width="1.7"/>
<line x1="62.9" y1="412.1" x2="283.5" y2="290.6" stroke="#3366ff" stroke-width="1.7"/>
<line x1="425" y1="412.1" x2="618.5" y2="300.9" stroke="#3366ff" stroke-width="1.7"/>
</svg>
</body></html>
